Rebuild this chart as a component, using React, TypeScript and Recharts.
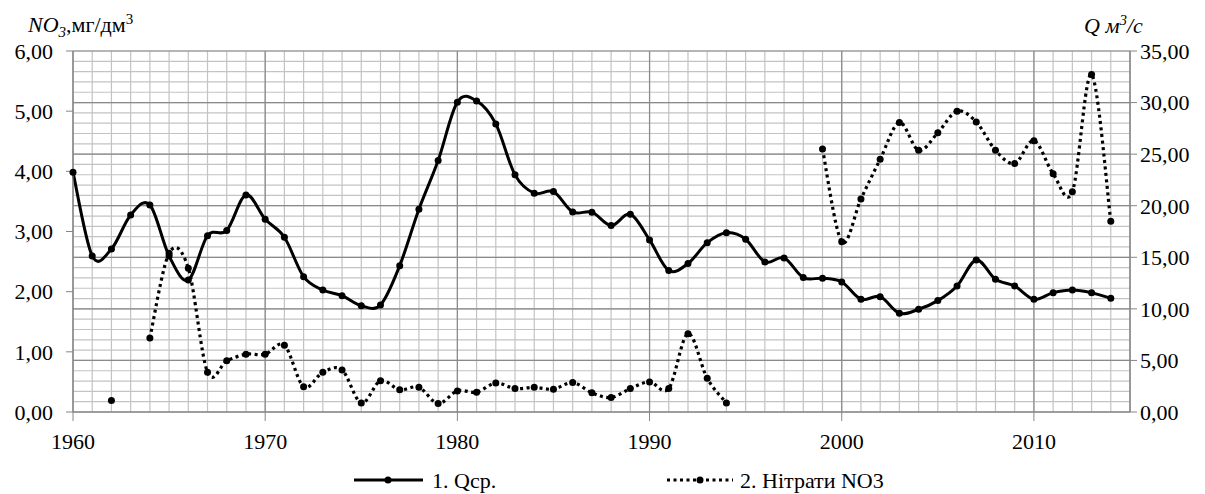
import React from 'react';
import { LineChart, Line, XAxis, YAxis, CartesianGrid } from 'recharts';

const years = [
  1960, 1961, 1962, 1963, 1964, 1965, 1966, 1967, 1968, 1969,
  1970, 1971, 1972, 1973, 1974, 1975, 1976, 1977, 1978, 1979,
  1980, 1981, 1982, 1983, 1984, 1985, 1986, 1987, 1988, 1989,
  1990, 1991, 1992, 1993, 1994, 1995, 1996, 1997, 1998, 1999,
  2000, 2001, 2002, 2003, 2004, 2005, 2006, 2007, 2008, 2009,
  2010, 2011, 2012, 2013, 2014,
];

// 1. Qср., m3/s (right axis)
const qValues = [
  23.25, 15.13, 15.81, 19.1, 20.08, 15.13, 12.8, 17.1, 17.6, 21.05,
  18.69, 16.94, 13.12, 11.83, 11.28, 10.31, 10.38, 14.19, 19.66, 24.38,
  30.04, 30.16, 27.93, 22.99, 21.21, 21.37, 19.4, 19.37, 18.07, 19.17,
  16.68, 13.71, 14.39, 16.42, 17.39, 16.75, 14.55, 14.94, 13.03, 12.97,
  12.6, 10.93, 11.18, 9.57, 9.96, 10.8, 12.22, 14.74, 12.87, 12.22,
  10.93, 11.57, 11.83, 11.57, 11.03,
];

// 2. Нітрати NO3, mg/dm3 (left axis)
const no3Values = [
  null, null, 0.19, null, 1.23, 2.64, 2.39, 0.66, 0.85, 0.96,
  0.96, 1.11, 0.42, 0.66, 0.7, 0.15, 0.52, 0.37, 0.41, 0.14,
  0.35, 0.33, 0.48, 0.39, 0.41, 0.38, 0.49, 0.32, 0.24, 0.39,
  0.5, 0.39, 1.3, 0.56, 0.15, null, null, null, null, 4.37,
  2.83, 3.54, 4.2, 4.81, 4.35, 4.64, 5.0, 4.82, 4.35, 4.13,
  4.51, 3.96, 3.66, 5.61, 3.17,
];

const xTicks = [1960, 1970, 1980, 1990, 2000, 2010];
const leftTicks = [0, 1, 2, 3, 4, 5, 6];
const rightTicks = [0, 5, 10, 15, 20, 25, 30, 35];
const minorYears = Array.from({ length: 56 }, (_, i) => 1960 + i);
const minorQ = Array.from({ length: 36 }, (_, i) => i);

const data = years.map((year, i) => ({ year, q: qValues[i], no3: no3Values[i] }));

const FONT = "'Liberation Serif', 'Times New Roman', 'DejaVu Serif', serif";
const fmt = (v: number) => v.toFixed(2).replace('.', ',');

// Excel-like smoothed line (Catmull-Rom through the points)
const excelSmooth = (context: any) => {
  let pts: number[][] = [];
  return {
    areaStart() {},
    areaEnd() {},
    lineStart() {
      pts = [];
    },
    point(x: number, y: number) {
      pts.push([+x, +y]);
    },
    lineEnd() {
      const n = pts.length;
      if (!n) return;
      context.moveTo(pts[0][0], pts[0][1]);
      for (let i = 0; i < n - 1; i++) {
        const p0 = pts[i - 1] || pts[i];
        const p1 = pts[i];
        const p2 = pts[i + 1];
        const p3 = pts[i + 2] || p2;
        context.bezierCurveTo(
          p1[0] + (p2[0] - p0[0]) / 6,
          p1[1] + (p2[1] - p0[1]) / 6,
          p2[0] - (p3[0] - p1[0]) / 6,
          p2[1] - (p3[1] - p1[1]) / 6,
          p2[0],
          p2[1]
        );
      }
    },
  };
};

const tickStyle = { fill: '#000', fontSize: 22 };

export default function App() {
  return (
    <div className="chart-root" style={{ position: 'relative', width: 1205, height: 494, background: '#fff' }}>
      <style>{`body{margin:0} .chart-root, .chart-root text, .chart-root tspan { font-family: ${FONT}; }`}</style>
      <LineChart width={1205} height={494} data={data} margin={{ top: 51, right: 0, bottom: 0, left: 0 }}>
        <CartesianGrid yAxisId="right" stroke="#c3c3c3" strokeWidth={1.2} horizontalValues={minorQ} verticalValues={minorYears} />
        <CartesianGrid yAxisId="right" stroke="#8a8a8a" strokeWidth={1.2} horizontalValues={rightTicks} verticalValues={[...xTicks, 2015]} />
        <XAxis
          dataKey="year"
          type="number"
          domain={[1960, 2015]}
          ticks={xTicks}
          interval={0}
          height={82}
          tickSize={9}
          tickMargin={12}
          stroke="#868686"
          tick={tickStyle}
        />
        <YAxis
          yAxisId="left"
          domain={[0, 6]}
          ticks={leftTicks}
          interval={0}
          width={73}
          tickSize={7}
          tickMargin={13}
          stroke="#868686"
          tick={tickStyle}
          tickFormatter={fmt}
        />
        <YAxis
          yAxisId="right"
          orientation="right"
          domain={[0, 35]}
          ticks={rightTicks}
          interval={0}
          width={75}
          tickSize={7}
          tickMargin={3}
          stroke="#868686"
          tick={tickStyle}
          tickFormatter={fmt}
        />
        <Line
          yAxisId="right"
          dataKey="q"
          type={excelSmooth as any}
          stroke="#000"
          strokeWidth={3}
          dot={{ r: 3.5, fill: '#000', stroke: 'none', strokeWidth: 0 }}
          activeDot={false}
          isAnimationActive={false}
        />
        <Line
          yAxisId="left"
          dataKey="no3"
          type={excelSmooth as any}
          stroke="#000"
          strokeWidth={3.2}
          strokeDasharray="3 3.5"
          dot={{ r: 3.5, fill: '#000', stroke: 'none', strokeWidth: 0, strokeDasharray: 'none' }}
          activeDot={false}
          isAnimationActive={false}
        />
      </LineChart>

      <svg width={1205} height={494} style={{ position: 'absolute', left: 0, top: 0, pointerEvents: 'none' }}>
        <text x={28} y={32} fontSize={22} fill="#000">
          <tspan fontStyle="italic">NO</tspan>
          <tspan fontStyle="italic" fontSize={15} dy={5}>3</tspan>
          <tspan dy={-5}>,мг/дм</tspan>
          <tspan fontSize={15} dy={-8}>3</tspan>
        </text>
        <text x={1084} y={33} fontSize={22} fill="#000" fontStyle="italic">
          <tspan>Q м</tspan>
          <tspan fontSize={15} dy={-8}>3</tspan>
          <tspan dy={8}>/с</tspan>
        </text>

        <line x1={354} y1={480} x2={423} y2={480} stroke="#000" strokeWidth={3} />
        <circle cx={388} cy={480} r={3.5} fill="#000" />
        <text x={432} y={488} fontSize={22} fill="#000">1. Qср.</text>

        <line x1={667} y1={480} x2={733} y2={480} stroke="#000" strokeWidth={3} strokeDasharray="3 3.5" />
        <circle cx={700} cy={480} r={3.5} fill="#000" />
        <text x={740} y={488} fontSize={22} fill="#000">2. Нітрати NO3</text>
      </svg>
    </div>
  );
}
